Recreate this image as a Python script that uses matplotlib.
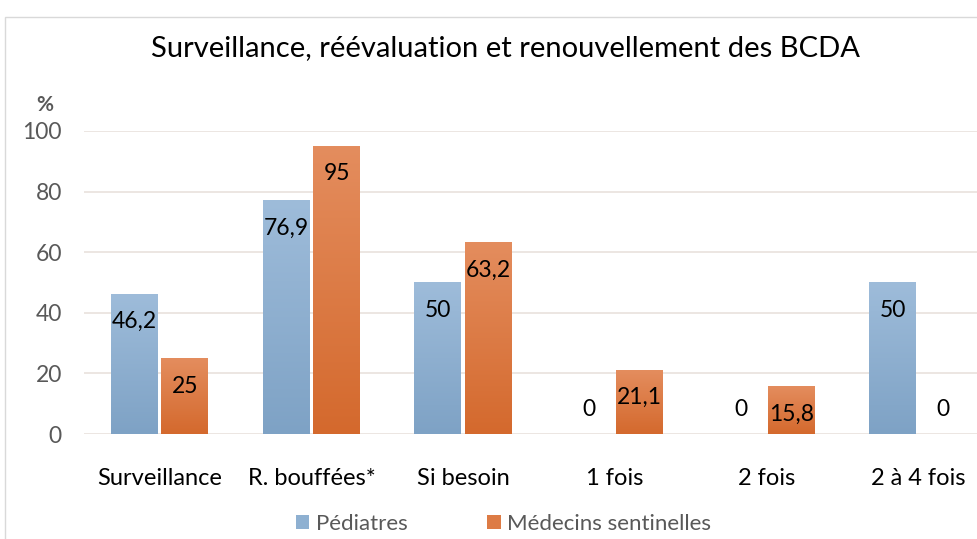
import numpy as np
import matplotlib.pyplot as plt
from matplotlib.colors import LinearSegmentedColormap
from matplotlib.patches import Rectangle, Patch

categories = ["Surveillance", "R. bouffées*", "Si besoin", "1 fois", "2 fois", "2 à 4 fois"]
pediatres = [46.2, 76.9, 50, 0, 0, 50]
sentinelles = [25, 95, 63.2, 21.1, 15.8, 0]
series_names = ["Pédiatres", "Médecins sentinelles"]
yticks = [0, 20, 40, 60, 80, 100]

plt.rcParams['font.family'] = ['Lato', 'DejaVu Sans']

fig = plt.figure(figsize=(9.78, 5.39), dpi=100)
ax = fig.add_axes([0.0859, 0.1948, 0.93, 0.5622])

# light frame around the chart area
fig.patches.append(Rectangle((5 / 978, -0.1), 1.2, 1 - 17 / 539 + 0.1,
                             transform=fig.transFigure, fill=False,
                             edgecolor="#d9d9d9", linewidth=1))

blue_cmap = LinearSegmentedColormap.from_list("b", ["#7ea2c5", "#9ebcda"])
orange_cmap = LinearSegmentedColormap.from_list("o", ["#d4692d", "#e48d5e"])

x = np.arange(len(categories))
w = 0.31
off = 0.166
grad = np.linspace(0, 1, 256).reshape(-1, 1)


def gradient_bars(xs, vals, cmap):
    for xi, v in zip(xs, vals):
        if v <= 0:
            continue
        ax.imshow(grad, cmap=cmap, origin="lower", aspect="auto",
                  extent=(xi - w / 2, xi + w / 2, 0, v), zorder=2)


gradient_bars(x - off, pediatres, blue_cmap)
gradient_bars(x + off, sentinelles, orange_cmap)

for xs, vals in ((x - off, pediatres), (x + off, sentinelles)):
    for xi, v in zip(xs, vals):
        label = f"{v:g}".replace(".", ",")
        dy = -20 if v > 0 else 18
        ax.annotate(label, (xi, v), xytext=(0, dy), textcoords="offset points",
                    ha="center", va="center", fontsize=16.5, color="#000000", zorder=3)

ax.set_xlim(-0.5, len(categories) - 0.5)
ax.set_ylim(0, 100)
ax.set_yticks(yticks)
ax.set_xticks(x)
ax.set_xticklabels(categories, fontsize=17, color="#000000")
ax.tick_params(axis="y", labelsize=16.5, labelcolor="#595959", length=0, pad=16)
ax.tick_params(axis="x", length=0, pad=24.5)
ax.grid(axis="y", color="#e9e2dd", linewidth=1.2, zorder=0)
ax.set_axisbelow(True)
for s in ax.spines.values():
    s.set_visible(False)

fig.text(506 / 978, 1 - 48 / 539, "Surveillance, réévaluation et renouvellement des BCDA",
         ha="center", va="center", fontsize=21, color="#000000")
fig.text(45 / 978, 1 - 105 / 539, "%", ha="center", va="center", fontsize=15,
         fontweight="bold", color="#595959")

handles = [Patch(facecolor="#8eb0d1", label=series_names[0]),
           Patch(facecolor="#dd7b45", label=series_names[1])]
fig.legend(handles=handles, loc="center", bbox_to_anchor=(503.5 / 978, 1 - 524 / 539),
           ncol=2, frameon=False, fontsize=16, labelcolor="#595959",
           handlelength=0.6, handleheight=0.6, handletextpad=0.3, columnspacing=3.6,
           borderpad=0)

plt.savefig("out.png", dpi=100)
